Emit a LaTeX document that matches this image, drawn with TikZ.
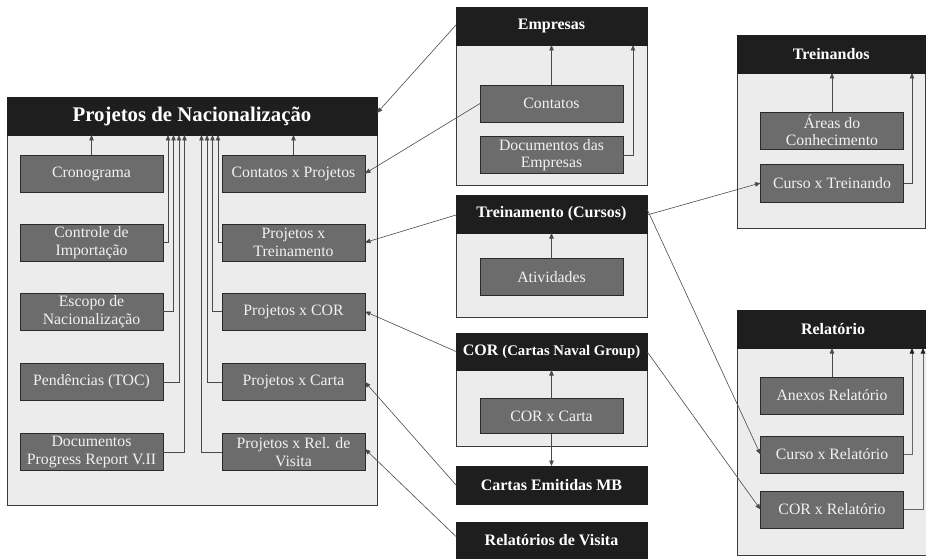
\documentclass[tikz,border=0pt]{standalone}
\usepackage{fontspec}
\setmainfont{Liberation Serif}
\usetikzlibrary{arrows.meta}
\definecolor{tbarc}{HTML}{1E1E1E}
\definecolor{ofill}{HTML}{ECECEC}
\definecolor{obord}{HTML}{3A3A3A}
\definecolor{ifill}{HTML}{6C6C6C}
\definecolor{ibord}{HTML}{2A2A2A}
\definecolor{itext}{HTML}{F2F2F2}
\definecolor{lcol}{HTML}{4A4A4A}
\definecolor{lcoll}{HTML}{666666}
\tikzset{
  outerbox/.style={draw=obord, fill=ofill, line width=0.9pt, inner sep=0pt, outer sep=0pt, anchor=north west},
  titlebar/.style={draw=tbarc, fill=tbarc, text=white, line width=0.9pt, inner sep=0pt, outer sep=0pt, anchor=north west, font=\bfseries\fontsize{16}{18}\selectfont},
  ibox/.style={draw=ibord, fill=ifill, text=itext, line width=0.9pt, minimum width=143pt, minimum height=37pt, align=center, inner sep=1pt, outer sep=0pt, font=\fontsize{15.8}{17.5}\selectfont},
  conn/.style={draw=lcol, line width=0.6pt, -{Triangle[length=5.5pt,width=4.5pt]}},
  connl/.style={conn, draw=lcoll, fill=lcol, line width=0.9pt},
}
\begin{document}
\begin{tikzpicture}[x=1pt,y=-1pt]
\useasboundingbox (0,0) rectangle (926,559);
\clip (0,0) rectangle (926,559);

% Projetos de Nacionalizacao
\node[outerbox, minimum width=370pt, minimum height=408pt] (pnBox) at (7,97) {};
\node[titlebar, minimum width=370pt, minimum height=38pt, font=\bfseries\fontsize{20.8}{22}\selectfont] (pnT) at (7,97) {Projetos de Nacionalização};
\node[ibox] (cron) at (91.5,173.5) {Cronograma};
\node[ibox] (ctrl) at (91.5,242.5) {Controle de\\Importação};
\node[ibox] (esc) at (91.5,311.5) {Escopo de\\Nacionalização};
\node[ibox] (pend) at (91.5,382) {Pendências (TOC)};
\node[ibox] (docs) at (91.5,452) {Documentos\\Progress Report V.II};
\node[ibox] (cxp) at (293.5,173.5) {Contatos x Projetos};
\node[ibox] (pxt) at (293.5,242.5) {Projetos x\\Treinamento};
\node[ibox] (pxcor) at (293.5,311.5) {Projetos x COR};
\node[ibox] (pxcarta) at (293.5,382) {Projetos x Carta};
\node[ibox] (pxrv) at (293.5,452) {Projetos x Rel. de\\Visita};

% Empresas
\node[outerbox, minimum width=191pt, minimum height=178pt] (empBox) at (456,7) {};
\node[titlebar, minimum width=191pt, minimum height=38pt] (empT) at (456,7) {Empresas};
\node[ibox] (cont) at (551.5,103.5) {Contatos};
\node[ibox] (docemp) at (551.5,155) {Documentos das\\Empresas};

% Treinamento
\node[outerbox, minimum width=191pt, minimum height=122pt] (treBox) at (456,195) {};
\node[titlebar, minimum width=191pt, minimum height=38pt] (treT) at (456,195) {Treinamento (Cursos)};
\node[ibox] (ativ) at (551.5,277) {Atividades};

% COR
\node[outerbox, minimum width=191pt, minimum height=113pt] (corBox) at (456,333) {};
\node[titlebar, minimum width=191pt, minimum height=37pt] (corT) at (456,333) {COR {\fontsize{14.7}{17}\selectfont(Cartas Naval Group)}};
\node[ibox, minimum height=35pt] (corcarta) at (551.5,416) {COR x Carta};

\node[titlebar, minimum width=191pt, minimum height=38pt] (cartas) at (456,466) {Cartas Emitidas MB};
\node[titlebar, minimum width=191pt, minimum height=37pt] (relvis) at (456,522) {Relatórios de Visita};

% Treinandos
\node[outerbox, minimum width=188.5pt, minimum height=193pt] (treiBox) at (737,35) {};
\node[titlebar, minimum width=188.5pt, minimum height=38pt] (treiT) at (737,35) {Treinandos};
\node[ibox] (areas) at (832,130.5) {Áreas do\\Conhecimento};
\node[ibox, minimum height=38pt] (cxt) at (832,183) {Curso x Treinando};

% Relatorio
\node[outerbox, minimum width=192pt, minimum height=245pt] (relBox) at (737,310) {};
\node[titlebar, minimum width=192pt, minimum height=38pt] (relT) at (737,310) {Relatório};
\node[ibox] (anex) at (832,395.5) {Anexos Relatório};
\node[ibox] (cxr) at (832,454.5) {Curso x Relatório};
\node[ibox] (corxr) at (832,509.5) {COR x Relatório};

% internal connectors - Projetos
\draw[conn] (cron.north) -- (cron.north |- pnT.south);
\draw[conn] (ctrl.east) -| (168,0 |- pnT.south);
\draw[conn] (esc.east) -| (173.5,0 |- pnT.south);
\draw[conn] (pend.east) -| (179,0 |- pnT.south);
\draw[conn] (docs.east) -| (184.5,0 |- pnT.south);
\draw[conn] (cxp.north) -- (cxp.north |- pnT.south);
\draw[conn] (pxt.west) -| (218,0 |- pnT.south);
\draw[conn] (pxcor.west) -| (212.5,0 |- pnT.south);
\draw[conn] (pxcarta.west) -| (207,0 |- pnT.south);
\draw[conn] (pxrv.west) -| (201.5,0 |- pnT.south);

% internal connectors - others
\draw[conn] (cont.north) -- (cont.north |- empT.south);
\draw[conn] (docemp.east) -| (633,0 |- empT.south);
\draw[conn] (ativ.north) -- (ativ.north |- treT.south);
\draw[conn] (corcarta.north) -- (corcarta.north |- corT.south);
\draw[conn] (corcarta.south) -- (cartas.north);
\draw[conn] (areas.north) -- (areas.north |- treiT.south);
\draw[conn] (cxt.east) -| (912,0 |- treiT.south);
\draw[conn] (anex.north) -- (anex.north |- relT.south);
\draw[conn, draw=lcoll, line width=0.9pt, -{Triangle[length=5.5pt,width=4.5pt,fill=tbarc,color=tbarc]}] (cxr.east) -| (912,0 |- relT.south);
\draw[conn, draw=lcoll, line width=0.9pt, -{Triangle[length=5.5pt,width=4.5pt,fill=tbarc,color=tbarc]}] (corxr.east) -| (923,0 |- relT.south);

% cross connectors
\draw[conn] ([yshift=1pt]empT.west) -- ([yshift=3pt]pnT.east);
\draw[conn] (cont.west) -- (cxp.east);
\draw[conn] ([yshift=-1pt]treT.west) -- (pxt.east);
\draw[conn] (corT.west) -- (pxcor.east);
\draw[conn] (cartas.west) -- (pxcarta.east);
\draw[conn] ([yshift=4pt]relvis.west) -- ([yshift=3pt]pxrv.east);
\draw[conn] ([yshift=-1pt]treT.east) -- (cxt.west);
\draw[conn] ([yshift=5pt]treT.east) -- (cxr.west);
\draw[conn] (corT.east) -- (corxr.west);
\end{tikzpicture}
\end{document}
